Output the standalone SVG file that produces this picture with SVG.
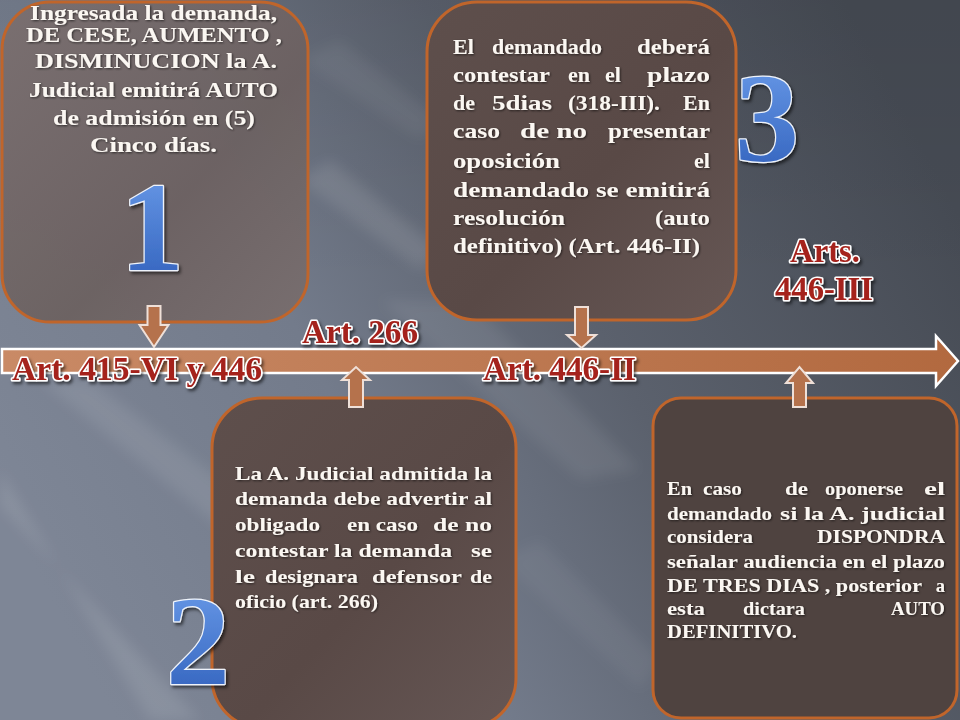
<svg xmlns="http://www.w3.org/2000/svg" width="960" height="720" viewBox="0 0 960 720">
<defs>
  <linearGradient id="bg" x1="0" y1="0.7" x2="1" y2="0.3">
    <stop offset="0" stop-color="#7e8696"/>
    <stop offset="0.35" stop-color="#737b8b"/>
    <stop offset="0.62" stop-color="#5b616d"/>
    <stop offset="1" stop-color="#464b54"/>
  </linearGradient>
  <linearGradient id="bgT" x1="0" y1="0" x2="0" y2="1">
    <stop offset="0" stop-color="#000" stop-opacity="0.06"/>
    <stop offset="0.4" stop-color="#000" stop-opacity="0"/>
  </linearGradient>
  <linearGradient id="box1" x1="0" y1="0" x2="1" y2="1">
    <stop offset="0" stop-color="#7a6f6f"/>
    <stop offset="0.6" stop-color="#6c6161"/>
    <stop offset="1" stop-color="#786e6e"/>
  </linearGradient>
  <linearGradient id="boxD" x1="0" y1="0" x2="1" y2="1">
    <stop offset="0" stop-color="#5e4f4c"/>
    <stop offset="0.55" stop-color="#594946"/>
    <stop offset="1" stop-color="#665755"/>
  </linearGradient>
  <linearGradient id="band" x1="0" y1="0" x2="1" y2="0">
    <stop offset="0" stop-color="#c98a66"/>
    <stop offset="1" stop-color="#b2693f"/>
  </linearGradient>
  <linearGradient id="blue" x1="0" y1="0" x2="0" y2="1">
    <stop offset="0" stop-color="#6e9fec"/>
    <stop offset="1" stop-color="#2d5db9"/>
  </linearGradient>
  <filter id="blur" x="-20%" y="-20%" width="140%" height="140%">
    <feGaussianBlur stdDeviation="7"/>
  </filter>
  <filter id="sh" x="-20%" y="-20%" width="140%" height="140%">
    <feDropShadow dx="2" dy="2.5" stdDeviation="1.6" flood-color="#000" flood-opacity="0.55"/>
  </filter>
  <filter id="tsh" x="-5%" y="-20%" width="110%" height="140%">
    <feDropShadow dx="1" dy="1" stdDeviation="0.8" flood-color="#000" flood-opacity="0.6"/>
  </filter>
  <style>
    .box{stroke:#c0652b;stroke-width:3}
    .t{font-family:"Liberation Serif","Times New Roman",serif;font-weight:bold;fill:#fbf7f2}
    .e{text-anchor:end}
    .lab{font-family:"Liberation Serif","Times New Roman",serif;font-weight:bold;font-size:33px;fill:#a5231c;stroke:#fff;stroke-width:3.2;paint-order:stroke fill;stroke-linejoin:round}
    .num{font-family:"Liberation Serif","Times New Roman",serif;font-weight:bold;font-size:128px;fill:url(#blue);stroke:#eef3fb;stroke-width:2.5;paint-order:stroke fill;stroke-linejoin:round;text-anchor:middle}
    .arr{fill:#b5724c;stroke:#efe0d8;stroke-width:2}
  </style>
</defs>

<g id="background">
  <rect width="960" height="720" fill="url(#bg)"/>
  <rect width="960" height="720" fill="url(#bgT)"/>
  <g filter="url(#blur)" fill="#fff">
    <polygon points="0,470 0,505 200,720 150,720" opacity="0.10"/>
    <polygon points="40,380 90,380 300,540 260,560" opacity="0.09"/>
    <polygon points="300,180 330,160 440,250 420,270" opacity="0.10"/>
    <polygon points="300,60 340,40 440,120 420,140" opacity="0.06"/>
    <polygon points="380,300 470,300 640,470 580,480" opacity="0.07"/>
    <polygon points="500,560 540,540 660,660 640,690" opacity="0.05"/>
  </g>
</g>

<g id="box1">
  <rect class="box" x="2" y="2" width="306" height="320" rx="48" fill="url(#box1)" fill-opacity="0.95"/>
  <g class="t" font-size="21" filter="url(#tsh)">
    <text x="30" y="20" textLength="247" lengthAdjust="spacingAndGlyphs">Ingresada la demanda,</text>
    <text x="26" y="42" textLength="256" lengthAdjust="spacingAndGlyphs">DE CESE, AUMENTO ,</text>
    <text x="35" y="68" textLength="242" lengthAdjust="spacingAndGlyphs">DISMINUCION  la A.</text>
    <text x="29" y="97" textLength="249" lengthAdjust="spacingAndGlyphs">Judicial emitirá AUTO</text>
    <text x="53" y="125" textLength="202" lengthAdjust="spacingAndGlyphs">de admisión en (5)</text>
    <text x="90" y="152" textLength="127" lengthAdjust="spacingAndGlyphs">Cinco  días.</text>
  </g>
</g>

<g id="box3">
  <rect class="box" x="427" y="2" width="309" height="318" rx="50" fill="url(#boxD)"/>
  <g class="t" font-size="22" filter="url(#tsh)">
    <text x="453" y="54">El</text>
    <text x="492" y="54" textLength="110" lengthAdjust="spacingAndGlyphs">demandado</text>
    <text x="637" y="54" textLength="73" lengthAdjust="spacingAndGlyphs">deberá</text>
    <text x="453" y="82" textLength="97" lengthAdjust="spacingAndGlyphs">contestar</text>
    <text x="568" y="82">en</text>
    <text x="605" y="82">el</text>
    <text x="647" y="82" textLength="63" lengthAdjust="spacingAndGlyphs">plazo</text>
    <text x="453" y="110">de</text>
    <text x="492" y="110" textLength="60" lengthAdjust="spacingAndGlyphs">5dias</text>
    <text x="568" y="110" textLength="92" lengthAdjust="spacingAndGlyphs">(318-III).</text>
    <text class="e" x="710" y="110">En</text>
    <text x="453" y="138" textLength="47" lengthAdjust="spacingAndGlyphs">caso</text>
    <text x="520" y="138" textLength="67" lengthAdjust="spacingAndGlyphs">de no</text>
    <text x="608" y="138" textLength="102" lengthAdjust="spacingAndGlyphs">presentar</text>
    <text x="453" y="168" textLength="107" lengthAdjust="spacingAndGlyphs">oposición</text>
    <text class="e" x="710" y="168">el</text>
    <text x="453" y="197" textLength="257" lengthAdjust="spacingAndGlyphs">demandado se emitirá</text>
    <text x="453" y="225" textLength="112" lengthAdjust="spacingAndGlyphs">resolución</text>
    <text x="655" y="225" textLength="55" lengthAdjust="spacingAndGlyphs">(auto</text>
    <text x="453" y="253" textLength="247" lengthAdjust="spacingAndGlyphs">definitivo) (Art. 446-II)</text>
  </g>
</g>

<g id="box2">
  <rect class="box" x="212" y="398" width="304" height="330" rx="50" fill="url(#boxD)"/>
  <g class="t" font-size="19" filter="url(#tsh)">
    <text x="235" y="480" textLength="257" lengthAdjust="spacingAndGlyphs">La A. Judicial admitida la</text>
    <text x="235" y="505" textLength="257" lengthAdjust="spacingAndGlyphs">demanda debe advertir al</text>
    <text x="235" y="531" textLength="85" lengthAdjust="spacingAndGlyphs">obligado</text>
    <text x="347" y="531" textLength="71" lengthAdjust="spacingAndGlyphs">en caso</text>
    <text x="433" y="531" textLength="59" lengthAdjust="spacingAndGlyphs">de no</text>
    <text x="235" y="557" textLength="217" lengthAdjust="spacingAndGlyphs">contestar la demanda</text>
    <text class="e" x="492" y="557" textLength="21" lengthAdjust="spacingAndGlyphs">se</text>
    <text x="235" y="583" textLength="20" lengthAdjust="spacingAndGlyphs">le</text>
    <text x="265" y="583" textLength="93" lengthAdjust="spacingAndGlyphs">designara</text>
    <text x="372" y="583" textLength="90" lengthAdjust="spacingAndGlyphs">defensor</text>
    <text class="e" x="492" y="583" textLength="22" lengthAdjust="spacingAndGlyphs">de</text>
    <text x="235" y="608" textLength="143" lengthAdjust="spacingAndGlyphs">oficio (art. 266)</text>
  </g>
</g>

<g id="box4">
  <rect class="box" x="653" y="398" width="304" height="320" rx="28" fill="#4f4340"/>
  <g class="t" font-size="18.5" filter="url(#tsh)">
    <text x="667" y="495" textLength="25" lengthAdjust="spacingAndGlyphs">En</text>
    <text x="703" y="495" textLength="39" lengthAdjust="spacingAndGlyphs">caso</text>
    <text x="785" y="495" textLength="23" lengthAdjust="spacingAndGlyphs">de</text>
    <text x="825" y="495" textLength="78" lengthAdjust="spacingAndGlyphs">oponerse</text>
    <text class="e" x="945" y="495" textLength="21" lengthAdjust="spacingAndGlyphs">el</text>
    <text x="667" y="520" textLength="105" lengthAdjust="spacingAndGlyphs">demandado</text>
    <text x="780" y="520" textLength="165" lengthAdjust="spacingAndGlyphs">si la A. judicial</text>
    <text x="667" y="543" textLength="86" lengthAdjust="spacingAndGlyphs">considera</text>
    <text x="817" y="543" textLength="128" lengthAdjust="spacingAndGlyphs">DISPONDRA</text>
    <text x="667" y="568" textLength="278" lengthAdjust="spacingAndGlyphs">señalar audiencia en el plazo</text>
    <text x="667" y="592" textLength="255" lengthAdjust="spacingAndGlyphs">DE TRES DIAS , posterior</text>
    <text class="e" x="945" y="592">a</text>
    <text x="667" y="615" textLength="38" lengthAdjust="spacingAndGlyphs">esta</text>
    <text x="743" y="615" textLength="62" lengthAdjust="spacingAndGlyphs">dictara</text>
    <text class="e" x="945" y="615" textLength="54" lengthAdjust="spacingAndGlyphs">AUTO</text>
    <text x="667" y="638" textLength="130" lengthAdjust="spacingAndGlyphs">DEFINITIVO.</text>
  </g>
</g>

<g id="numbers" filter="url(#sh)">
  <text class="num" x="152" y="270">1</text>
  <text class="num" x="198" y="684">2</text>
  <text class="num" x="767" y="161">3</text>
</g>

<g id="connectors">
  <path id="timeline" d="M2,349 H936 V336 L958,361 L936,386 V373 H2 Z" fill="url(#band)" stroke="#fff" stroke-width="2.5" stroke-linejoin="miter"/>
  <path class="arr" d="M147.5,306 H160.5 V325 H168.5 L154,347 L139.5,325 H147.5 Z"/>
  <path class="arr" d="M575,307 H588 V335 H596 L581.5,348 L567,335 H575 Z"/>
  <path class="arr" d="M349,407 V380 H342 L356,367 L370,380 H363 V407 Z"/>
  <path class="arr" d="M793,407 V383 H786 L799.5,367 L813,383 H806 V407 Z"/>
</g>

<g id="labels" filter="url(#sh)">
  <text class="lab" x="12" y="380" textLength="250" lengthAdjust="spacingAndGlyphs">Art. 415-VI y 446</text>
  <text class="lab" x="302" y="343" textLength="116" lengthAdjust="spacingAndGlyphs">Art. 266</text>
  <text class="lab" x="483" y="380" textLength="153" lengthAdjust="spacingAndGlyphs">Art. 446-II</text>
  <text class="lab" x="790" y="262" textLength="70" lengthAdjust="spacingAndGlyphs">Arts.</text>
  <text class="lab" x="775" y="300" textLength="98" lengthAdjust="spacingAndGlyphs">446-III</text>
</g>
</svg>
